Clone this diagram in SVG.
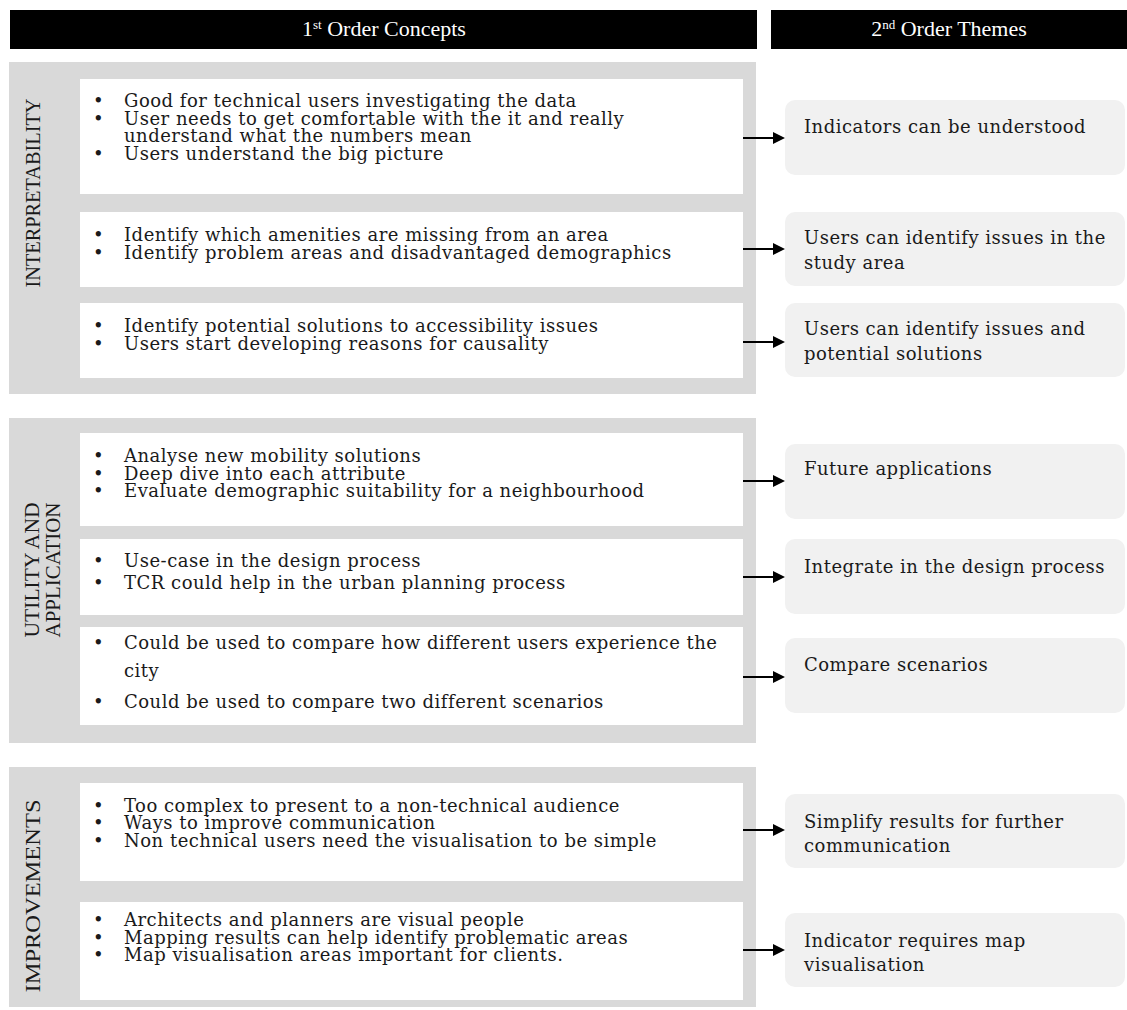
<svg xmlns="http://www.w3.org/2000/svg" width="1127" height="1010" viewBox="0 0 1127 1010">
<style>
.panel{fill:#d9d9d9}
.box{fill:#ffffff}
.theme{fill:#f1f1f1}
.hbar{fill:#000000}
.t{font-family:"DejaVu Serif","Liberation Serif",serif;font-size:18px;letter-spacing:0.5px;fill:#1a1a1a}
.lbl{font-family:"Liberation Serif",serif;font-size:21px;fill:#1a1a1a;text-anchor:middle}
.hdr{font-family:"Liberation Serif",serif;font-size:22px;fill:#ffffff;text-anchor:middle}
.conn line{stroke:#000000;stroke-width:2}
</style>
<defs>
<marker id="ah" markerUnits="userSpaceOnUse" markerWidth="12" markerHeight="12" refX="0" refY="6" orient="auto">
<path d="M0,0 L12,6 L0,12 z" fill="#000000"/>
</marker>
</defs>
<rect width="1127" height="1010" fill="#ffffff"/>

<g id="header-concepts">
<rect class="hbar" x="10" y="10" width="747" height="39"/>
<text class="hdr" x="384" y="36">1<tspan dy="-7" font-size="13">st</tspan><tspan dy="7"> Order Concepts</tspan></text>
</g>
<g id="header-themes">
<rect class="hbar" x="771" y="10" width="356" height="39"/>
<text class="hdr" x="949" y="36">2<tspan dy="-7" font-size="13">nd</tspan><tspan dy="7"> Order Themes</tspan></text>
</g>

<g id="panel-interpretability">
<rect class="panel" x="9" y="62" width="747" height="332"/>
<text class="lbl" transform="translate(40,193) rotate(-90)" textLength="189" lengthAdjust="spacingAndGlyphs">INTERPRETABILITY</text>
</g>
<g id="panel-utility">
<rect class="panel" x="9" y="418" width="747" height="325"/>
<text class="lbl" transform="translate(39,570) rotate(-90)" textLength="135" lengthAdjust="spacingAndGlyphs">UTILITY AND</text>
<text class="lbl" transform="translate(60,570) rotate(-90)" textLength="135" lengthAdjust="spacingAndGlyphs">APPLICATION</text>
</g>
<g id="panel-improvements">
<rect class="panel" x="9" y="767" width="747" height="240"/>
<text class="lbl" transform="translate(40,896) rotate(-90)" textLength="193" lengthAdjust="spacingAndGlyphs">IMPROVEMENTS</text>
</g>

<g id="c1">
<rect class="box" x="80" y="79" width="663" height="115"/>
<text class="t"><tspan x="93" y="107">•</tspan><tspan x="124" y="107">Good for technical users investigating the data</tspan><tspan x="93" y="124.5">•</tspan><tspan x="124" y="124.5">User needs to get comfortable with the it and really</tspan><tspan x="124" y="142">understand what the numbers mean</tspan><tspan x="93" y="159.5">•</tspan><tspan x="124" y="159.5">Users understand the big picture</tspan></text>
</g>
<g id="c2">
<rect class="box" x="80" y="212" width="663" height="75"/>
<text class="t"><tspan x="93" y="241">•</tspan><tspan x="124" y="241">Identify which amenities are missing from an area</tspan><tspan x="93" y="259">•</tspan><tspan x="124" y="259">Identify problem areas and disadvantaged demographics</tspan></text>
</g>
<g id="c3">
<rect class="box" x="80" y="303" width="663" height="75"/>
<text class="t"><tspan x="93" y="332">•</tspan><tspan x="124" y="332">Identify potential solutions to accessibility issues</tspan><tspan x="93" y="350">•</tspan><tspan x="124" y="350">Users start developing reasons for causality</tspan></text>
</g>
<g id="c4">
<rect class="box" x="80" y="433" width="663" height="93"/>
<text class="t"><tspan x="93" y="462">•</tspan><tspan x="124" y="462">Analyse new mobility solutions</tspan><tspan x="93" y="479.5">•</tspan><tspan x="124" y="479.5">Deep dive into each attribute</tspan><tspan x="93" y="497">•</tspan><tspan x="124" y="497">Evaluate demographic suitability for a neighbourhood</tspan></text>
</g>
<g id="c5">
<rect class="box" x="80" y="539" width="663" height="76"/>
<text class="t"><tspan x="93" y="567">•</tspan><tspan x="124" y="567">Use-case in the design process</tspan><tspan x="93" y="589">•</tspan><tspan x="124" y="589">TCR could help in the urban planning process</tspan></text>
</g>
<g id="c6">
<rect class="box" x="80" y="627" width="663" height="98"/>
<text class="t"><tspan x="93" y="649">•</tspan><tspan x="124" y="649">Could be used to compare how different users experience the</tspan><tspan x="124" y="677">city</tspan><tspan x="93" y="708">•</tspan><tspan x="124" y="708">Could be used to compare two different scenarios</tspan></text>
</g>
<g id="c7">
<rect class="box" x="80" y="783" width="663" height="98"/>
<text class="t"><tspan x="93" y="811.5">•</tspan><tspan x="124" y="811.5">Too complex to present to a non-technical audience</tspan><tspan x="93" y="829">•</tspan><tspan x="124" y="829">Ways to improve communication</tspan><tspan x="93" y="846.5">•</tspan><tspan x="124" y="846.5">Non technical users need the visualisation to be simple</tspan></text>
</g>
<g id="c8">
<rect class="box" x="80" y="902" width="663" height="98"/>
<text class="t"><tspan x="93" y="926">•</tspan><tspan x="124" y="926">Architects and planners are visual people</tspan><tspan x="93" y="943.5">•</tspan><tspan x="124" y="943.5">Mapping results can help identify problematic areas</tspan><tspan x="93" y="961">•</tspan><tspan x="124" y="961">Map visualisation areas important for clients.</tspan></text>
</g>

<g id="t1">
<rect class="theme" x="785" y="100" width="340" height="75" rx="10"/>
<text class="t" x="804" y="133">Indicators can be understood</text>
</g>
<g id="t2">
<rect class="theme" x="785" y="212" width="340" height="74" rx="10"/>
<text class="t"><tspan x="804" y="244">Users can identify issues in the</tspan><tspan x="804" y="269">study area</tspan></text>
</g>
<g id="t3">
<rect class="theme" x="785" y="303" width="340" height="74" rx="10"/>
<text class="t"><tspan x="804" y="335">Users can identify issues and</tspan><tspan x="804" y="360">potential solutions</tspan></text>
</g>
<g id="t4">
<rect class="theme" x="785" y="444" width="340" height="75" rx="10"/>
<text class="t" x="804" y="475">Future applications</text>
</g>
<g id="t5">
<rect class="theme" x="785" y="539" width="340" height="75" rx="10"/>
<text class="t" x="804" y="573">Integrate in the design process</text>
</g>
<g id="t6">
<rect class="theme" x="785" y="638" width="340" height="75" rx="10"/>
<text class="t" x="804" y="671">Compare scenarios</text>
</g>
<g id="t7">
<rect class="theme" x="785" y="794" width="340" height="74" rx="10"/>
<text class="t"><tspan x="804" y="828">Simplify results for further</tspan><tspan x="804" y="852">communication</tspan></text>
</g>
<g id="t8">
<rect class="theme" x="785" y="913" width="340" height="74" rx="10"/>
<text class="t"><tspan x="804" y="947">Indicator requires map</tspan><tspan x="804" y="971">visualisation</tspan></text>
</g>

<g id="connectors" class="conn">
<line x1="743" y1="138" x2="773" y2="138" marker-end="url(#ah)"/>
<line x1="743" y1="249" x2="773" y2="249" marker-end="url(#ah)"/>
<line x1="743" y1="342" x2="773" y2="342" marker-end="url(#ah)"/>
<line x1="743" y1="481" x2="773" y2="481" marker-end="url(#ah)"/>
<line x1="743" y1="577" x2="773" y2="577" marker-end="url(#ah)"/>
<line x1="743" y1="677" x2="773" y2="677" marker-end="url(#ah)"/>
<line x1="743" y1="830" x2="773" y2="830" marker-end="url(#ah)"/>
<line x1="743" y1="950" x2="773" y2="950" marker-end="url(#ah)"/>
</g>
</svg>
